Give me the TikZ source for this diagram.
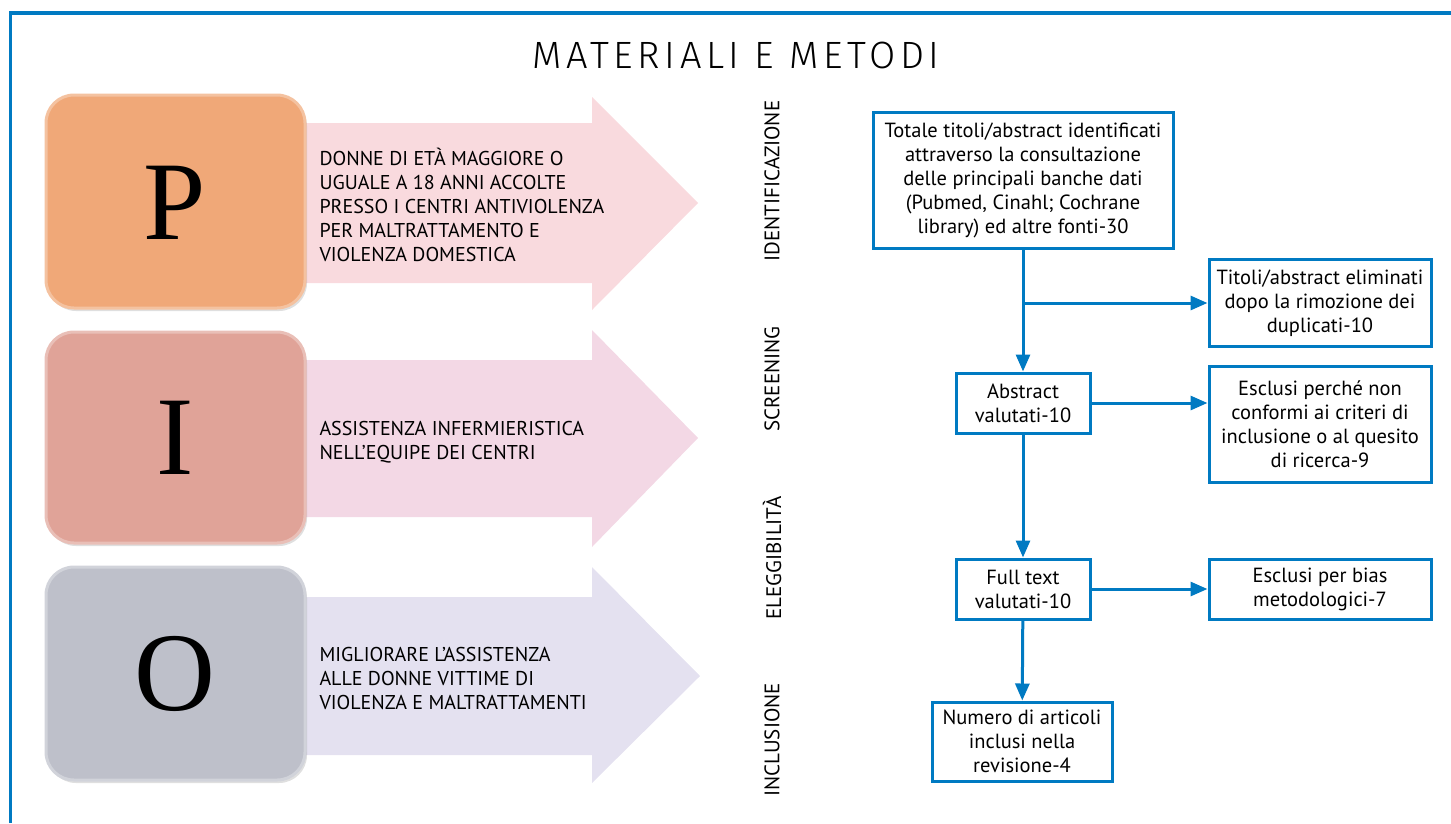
\documentclass[tikz,border=0pt]{standalone}
\usepackage{fontspec}
\setmainfont{PT Sans}
\newfontfamily\titlefont{Fira Sans Light}[LetterSpace=12]
\newfontfamily\picofont{Liberation Serif}
\usetikzlibrary{arrows.meta,shadows}

\definecolor{flowblue}{RGB}{0,122,194}
\definecolor{pbox}{RGB}{240,168,120}
\definecolor{ibox}{RGB}{224,163,152}
\definecolor{obox}{RGB}{190,192,202}
\definecolor{parrow}{RGB}{249,218,222}
\definecolor{iarrow}{RGB}{243,216,229}
\definecolor{oarrow}{RGB}{228,225,240}

\begin{document}
\begin{tikzpicture}[x=1pt, y=-1pt,
	box/.style={draw=flowblue, line width=3pt, align=center, inner sep=0pt, font=\fontsize{20.5}{24}\selectfont},
	flow/.style={draw=flowblue, line width=3pt, -{Triangle[length=17pt, width=14pt]}},
	phase/.style={rotate=90, font=\fontsize{21}{22}\selectfont},
	pico/.style={rounded corners=28pt, line width=3pt, drop shadow={opacity=0.25, shadow xshift=2pt, shadow yshift=-3pt}},
	letter/.style={font=\picofont\fontsize{112}{112}\selectfont},
	picotext/.style={anchor=west, align=left, font=\fontsize{20}{24}\selectfont}]
	\useasboundingbox (0,0) rectangle (1451,823);

	% frame and title
	\draw [flowblue, line width=3.5pt] (10.5,823) -- (10.5,13) -- (1451,13);
	\node (title) at (736,55) {\titlefont\fontsize{38}{40}\selectfont MATERIALI E METODI};

	% PICO arrows
	\fill [parrow] (290,123) -- (592,123) -- (592,97) -- (698,203) -- (592,310) -- (592,283) -- (290,283) -- cycle;
	\fill [iarrow] (290,360) -- (592,360) -- (592,330) -- (698,438) -- (592,547) -- (592,517) -- (290,517) -- cycle;
	\fill [oarrow] (290,597) -- (592,597) -- (592,567) -- (700,676) -- (592,783) -- (592,755) -- (290,755) -- cycle;

	% PICO boxes
	\filldraw [pico, fill=pbox, draw=pbox!70!white] (46,95) rectangle (305,308);
	\filldraw [pico, fill=ibox, draw=ibox!70!white] (46,332) rectangle (305,543);
	\filldraw [pico, fill=obox, draw=obox!70!white] (46,567) rectangle (305,780);

	\node [letter] (P) at (175,203) {P};
	\node [letter] (I) at (175,438) {I};
	\node [letter] (O) at (175,674) {O};

	\node [picotext] (ptext) at (316,205) {DONNE DI ETÀ MAGGIORE O\\UGUALE A 18 ANNI ACCOLTE\\PRESSO I CENTRI ANTIVIOLENZA\\PER MALTRATTAMENTO E\\VIOLENZA DOMESTICA};
	\node [picotext] (itext) at (316,442) {ASSISTENZA INFERMIERISTICA\\NELL’EQUIPE DEI CENTRI};
	\node [picotext] (otext) at (316,678) {MIGLIORARE L’ASSISTENZA\\ALLE DONNE VITTIME DI\\VIOLENZA E MALTRATTAMENTI};

	% phases
	\node [phase] (ident) at (772,181) {IDENTIFICAZIONE};
	\node [phase] (screen) at (772,379) {SCREENING};
	\node [phase] (elig) at (772,558) {ELEGGIBILITÀ};
	\node [phase] (incl) at (772,740) {INCLUSIONE};

	% flow diagram
	\node [box, minimum width=300pt, minimum height=136pt] (totale) at (1023,180) {Totale titoli/abstract identificati\\attraverso la consultazione\\delle principali banche dati\\(Pubmed, Cinahl; Cochrane\\library) ed altre fonti-30};
	\node [box, minimum width=222pt, minimum height=87pt] (duplicati) at (1320,303) {Titoli/abstract eliminati\\dopo la rimozione dei\\duplicati-10};
	\node [box, minimum width=134pt, minimum height=60pt] (abstract) at (1023,403) {Abstract\\valutati-10};
	\node [box, minimum width=222pt, minimum height=116pt] (esclusi) at (1320,424) {Esclusi perché non\\conformi ai criteri di\\inclusione o al quesito\\di ricerca-9};
	\node [box, minimum width=134pt, minimum height=60pt] (fulltext) at (1023,589) {Full text\\valutati-10};
	\node [box, minimum width=222pt, minimum height=60pt] (bias) at (1320,589) {Esclusi per bias\\metodologici-7};
	\node [box, minimum width=180pt, minimum height=79pt] (inclusi) at (1022,741.5) {Numero di articoli\\inclusi nella\\revisione-4};

	\coordinate (split) at (totale.south |- duplicati.west);
	\coordinate (escin) at (abstract.east -| esclusi.west);

	\draw [flow] (totale) -- (abstract);
	\draw [flow] (split) -- (duplicati);
	\draw [flow] (abstract) -- (escin);
	\draw [flow] (abstract) -- (fulltext);
	\draw [flow] (fulltext) -- (bias);
	\draw [flow] (fulltext) -- (inclusi);
\end{tikzpicture}
\end{document}
